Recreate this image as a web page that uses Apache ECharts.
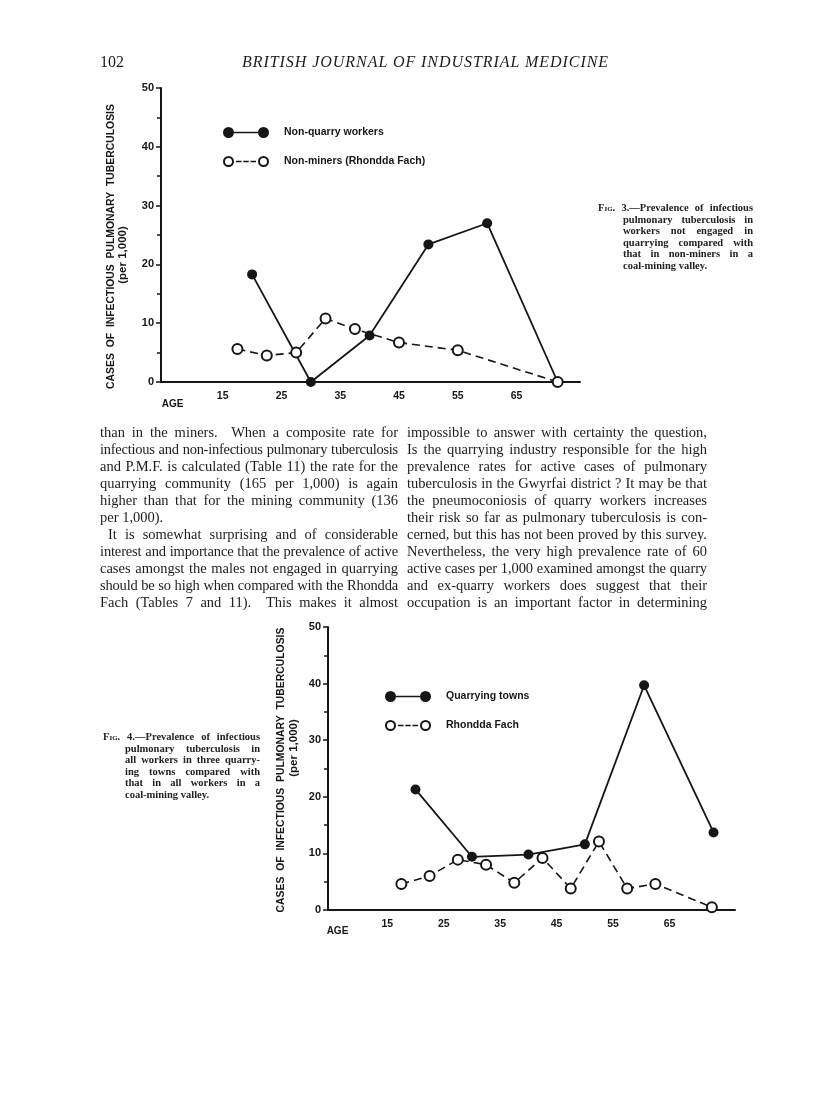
<!DOCTYPE html>
<html>
<head>
<meta charset="utf-8">
<script src="https://cdn.jsdelivr.net/npm/echarts@6/dist/echarts.min.js"></script>
<style>
  html, body { margin: 0; padding: 0; background: #fff; }
  #page { position: relative; width: 816px; height: 1101px; overflow: hidden; background: #fff; }
  #main { position: absolute; left: 0; top: 0; width: 816px; height: 1101px; }
  .serif { position: absolute; font-family: "Liberation Serif", "Times New Roman", serif; color: #1c1c1c; }
  .ln { white-space: nowrap; }
  .just { white-space: normal; text-align: justify; text-align-last: justify; }
  .body { font-size: 14.5px; line-height: 17px; }
  .cap { font-size: 10.5px; line-height: 11.6px; font-weight: bold; color: #222; }
  .sc { font-variant: small-caps; }
</style>
</head>
<body>
<div id="page">
  <div id="main"></div>

  <div class="serif" style="left:100px; top:52px; font-size:16px; line-height:20px;">102</div>
  <div class="serif" style="left:242px; top:52px; font-size:16px; line-height:20px; font-style:italic; letter-spacing:0.95px;">BRITISH JOURNAL OF INDUSTRIAL MEDICINE</div>

  <div class="serif cap" style="left:598px; top:202px; width:155px;">
    <div class="ln jl"><span><span class="sc">Fig</span>. 3.—Prevalence of infectious</span></div>
    <div class="ln jl" style="margin-left:25px"><span>pulmonary tuberculosis in</span></div>
    <div class="ln jl" style="margin-left:25px"><span>workers not engaged in</span></div>
    <div class="ln jl" style="margin-left:25px"><span>quarrying compared with</span></div>
    <div class="ln jl" style="margin-left:25px"><span>that in non-miners in a</span></div>
    <div class="ln" style="margin-left:25px"><span>coal-mining valley.</span></div>
  </div>

  <div class="serif body" style="left:100px; top:424px; width:298px;">
    <div class="ln jl"><span>than in the miners.&nbsp; When a composite rate for</span></div>
    <div class="ln jl"><span>infectious and non-infectious pulmonary tuberculosis</span></div>
    <div class="ln jl"><span>and P.M.F. is calculated (Table 11) the rate for the</span></div>
    <div class="ln jl"><span>quarrying community (165 per 1,000) is again</span></div>
    <div class="ln jl"><span>higher than that for the mining community (136</span></div>
    <div class="ln"><span>per 1,000).</span></div>
    <div class="ln jl" style="padding-left:8px"><span>It is somewhat surprising and of considerable</span></div>
    <div class="ln jl"><span>interest and importance that the prevalence of active</span></div>
    <div class="ln jl"><span>cases amongst the males not engaged in quarrying</span></div>
    <div class="ln jl"><span>should be so high when compared with the Rhondda</span></div>
    <div class="ln jl"><span>Fach (Tables 7 and 11).&nbsp; This makes it almost</span></div>
  </div>

  <div class="serif body" style="left:407px; top:424px; width:300px;">
    <div class="ln jl"><span>impossible to answer with certainty the question,</span></div>
    <div class="ln jl"><span>Is the quarrying industry responsible for the high</span></div>
    <div class="ln jl"><span>prevalence rates for active cases of pulmonary</span></div>
    <div class="ln jl"><span>tuberculosis in the Gwyrfai district ? It may be that</span></div>
    <div class="ln jl"><span>the pneumoconiosis of quarry workers increases</span></div>
    <div class="ln jl"><span>their risk so far as pulmonary tuberculosis is con-</span></div>
    <div class="ln jl"><span>cerned, but this has not been proved by this survey.</span></div>
    <div class="ln jl"><span>Nevertheless, the very high prevalence rate of 60</span></div>
    <div class="ln jl"><span>active cases per 1,000 examined amongst the quarry</span></div>
    <div class="ln jl"><span>and ex-quarry workers does suggest that their</span></div>
    <div class="ln jl"><span>occupation is an important factor in determining</span></div>
  </div>

  <div class="serif cap" style="left:103px; top:731px; width:157px;">
    <div class="ln jl"><span><span class="sc">Fig</span>. 4.—Prevalence of infectious</span></div>
    <div class="ln jl" style="margin-left:22px"><span>pulmonary tuberculosis in</span></div>
    <div class="ln jl" style="margin-left:22px"><span>all workers in three quarry-</span></div>
    <div class="ln jl" style="margin-left:22px"><span>ing towns compared with</span></div>
    <div class="ln jl" style="margin-left:22px"><span>that in all workers in a</span></div>
    <div class="ln" style="margin-left:22px"><span>coal-mining valley.</span></div>
  </div>
</div>

<script>
// Fig. 3 -- ages are mid-points of the age groups, rates per 1,000
const fig3QuarryAges = [20, 30, 40, 50, 60, 72];
const fig3QuarryRates = [18.3, 0, 7.9, 23.4, 27.0, 0];
const fig3MinersAges = [17.5, 22.5, 27.5, 32.5, 37.5, 45, 55, 72];
const fig3MinersRates = [5.6, 4.5, 5.0, 10.8, 9.0, 6.7, 5.4, 0];

// Fig. 4
const fig4QuarryAges = [20, 30, 40, 50, 60.5, 72.8];
const fig4QuarryRates = [21.3, 9.4, 9.8, 11.6, 39.7, 13.7];
const fig4RhonddaAges = [17.5, 22.5, 27.5, 32.5, 37.5, 42.5, 47.5, 52.5, 57.5, 62.5, 72.5];
const fig4RhonddaRates = [4.6, 6.0, 8.9, 8.0, 4.8, 9.2, 3.8, 12.1, 3.8, 4.6, 0.5];

const ageTicks = [15, 25, 35, 45, 55, 65];
const yTitle = "CASES  OF  INFECTIOUS  PULMONARY  TUBERCULOSIS";
const ySubTitle = "(per 1,000)";

// justify the text lines, squeezing the ones that are too long
document.querySelectorAll(".jl").forEach((el) => {
  const span = el.firstElementChild;
  const natural = span.getBoundingClientRect().width;
  const avail = el.clientWidth - (parseFloat(getComputedStyle(el).paddingLeft) || 0);
  if (natural > avail) {
    const n = span.textContent.length;
    span.style.letterSpacing = ((avail - natural) / n - 0.05) + "px";
  }
  el.classList.remove("ln");
  el.classList.add("just");
});

const ink = "#161616";
const lettering = { fontFamily: "Liberation Sans", fontWeight: "bold", fontSize: 10, color: ink };

const iconFilled =
  "path://M0,5.5A5.5,5.5,0,1,1,11,5.5A5.5,5.5,0,1,1,0,5.5Z" +
  "M35,5.5A5.5,5.5,0,1,1,46,5.5A5.5,5.5,0,1,1,35,5.5Z" +
  "M11,4.7H35V6.3H11Z";
const iconOpen =
  "path://M0,5.5A5.5,5.5,0,1,1,11,5.5A5.5,5.5,0,1,1,0,5.5Z" +
  "M2,5.5A3.5,3.5,0,1,0,9,5.5A3.5,3.5,0,1,0,2,5.5Z" +
  "M35,5.5A5.5,5.5,0,1,1,46,5.5A5.5,5.5,0,1,1,35,5.5Z" +
  "M37,5.5A3.5,3.5,0,1,0,44,5.5A3.5,3.5,0,1,0,37,5.5Z" +
  "M13,4.7H18.5V6.3H13Z M20.25,4.7H25.75V6.3H20.25Z M27.5,4.7H33V6.3H27.5Z";

function pairs(xs, ys) {
  return xs.map((x, i) => [x, ys[i]]);
}

function xAxisFor(gridIndex, max, nameGap, nameDrop) {
  return {
    type: "value",
    gridIndex,
    min: 4.5,
    max,
    // two empty lines push AGE below the tick labels
    name: "\n\nAGE",
    nameLocation: "start",
    nameGap,
    nameMoveOverlap: false,
    nameTextStyle: { ...lettering, lineHeight: nameDrop },
    axisLine: { lineStyle: { color: ink, width: 2 } },
    axisTick: { show: false },
    splitLine: { show: false },
    axisLabel: { ...lettering, fontSize: 10.5, margin: 9, customValues: ageTicks },
  };
}

function yAxisFor(gridIndex, nameGap, titlePad, subPad) {
  return {
    type: "value",
    gridIndex,
    min: 0,
    max: 50,
    interval: 10,
    name: "{t|" + yTitle + "}\n{s|" + ySubTitle + "}",
    nameLocation: "middle",
    nameGap,
    nameMoveOverlap: false,
    nameTextStyle: {
      ...lettering,
      lineHeight: 12.5,
      rich: {
        t: { ...lettering, fontSize: 10.4, lineHeight: 12.5, padding: titlePad },
        s: { ...lettering, fontSize: 11.5, lineHeight: 12.5, padding: subPad },
      },
    },
    axisLine: { lineStyle: { color: ink, width: 2 } },
    axisTick: { show: true, length: 5, lineStyle: { color: ink, width: 1.5 } },
    minorTick: { show: true, splitNumber: 2, length: 4, lineStyle: { color: ink, width: 1.5 } },
    splitLine: { show: false },
    axisLabel: { ...lettering, fontSize: 11, margin: 7 },
  };
}

function solidSeries(name, idx, data) {
  return {
    name, type: "line", xAxisIndex: idx, yAxisIndex: idx, data,
    symbol: "circle", symbolSize: 10, z: 3,
    lineStyle: { color: ink, width: 1.8 },
    itemStyle: { color: ink },
  };
}

function dashedSeries(name, idx, data) {
  return {
    name, type: "line", xAxisIndex: idx, yAxisIndex: idx, data,
    symbol: "circle", symbolSize: 10, z: 4,
    lineStyle: { color: ink, width: 1.6, type: [8, 5] },
    itemStyle: { color: "#fff", borderColor: ink, borderWidth: 2 },
  };
}

function legendFor(left, top, names) {
  return {
    left, top, padding: 0, orient: "vertical",
    itemWidth: 46, itemHeight: 11, itemGap: 18,
    selectedMode: false,
    itemStyle: { color: ink, borderWidth: 0 },
    textStyle: { ...lettering, fontSize: 10.5, padding: [0, 0, 0, 10] },
    data: [
      { name: names[0], icon: iconFilled },
      { name: names[1], icon: iconOpen },
    ],
  };
}

const chart = echarts.init(document.getElementById("main"));
chart.setOption({
  animation: false,
  grid: [
    { left: 161, top: 88, width: 419, height: 294, containLabel: false, outerBoundsMode: "none" },
    { left: 328, top: 627, width: 407, height: 283, containLabel: false, outerBoundsMode: "none" },
  ],
  xAxis: [xAxisFor(0, 75.8, -22.5, 22.7), xAxisFor(1, 76.6, -20.3, 21.7)],
  yAxis: [
    yAxisFor(0, 31.5, [0, 23, 0, 0], [0, 40, 0, 0]),
    yAxisFor(1, 28, [0, 3, 0, 0], [0, 0, 0, 41]),
  ],
  legend: [
    legendFor(223, 127, ["Non-quarry workers", "Non-miners (Rhondda Fach)"]),
    legendFor(385, 691, ["Quarrying towns", "Rhondda Fach"]),
  ],
  series: [
    solidSeries("Non-quarry workers", 0, pairs(fig3QuarryAges, fig3QuarryRates)),
    dashedSeries("Non-miners (Rhondda Fach)", 0, pairs(fig3MinersAges, fig3MinersRates)),
    solidSeries("Quarrying towns", 1, pairs(fig4QuarryAges, fig4QuarryRates)),
    dashedSeries("Rhondda Fach", 1, pairs(fig4RhonddaAges, fig4RhonddaRates)),
  ],
});
</script>
</body>
</html>
